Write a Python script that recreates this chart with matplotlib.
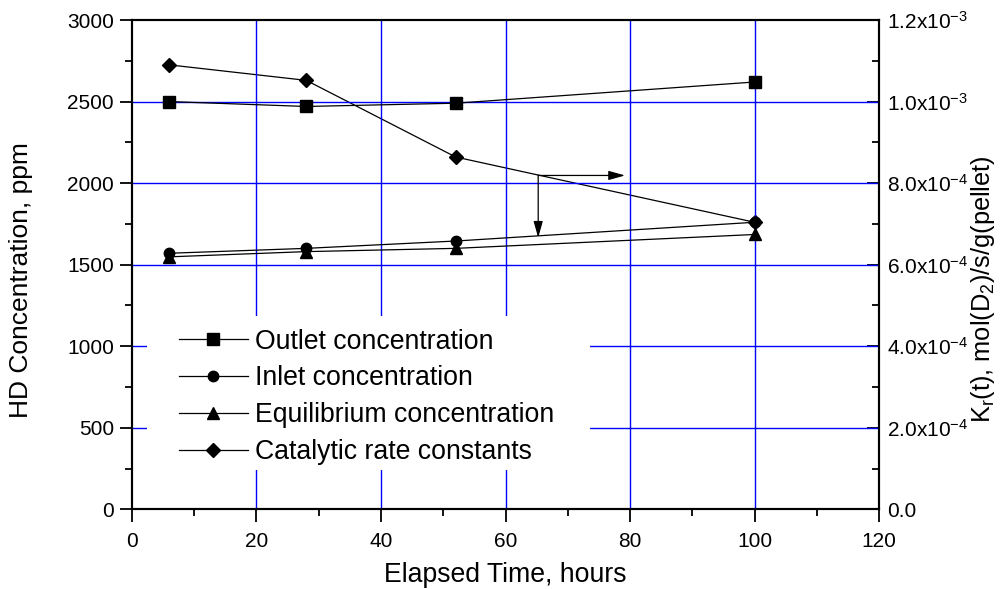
import numpy as np
import matplotlib
matplotlib.use('Agg')
import matplotlib.pyplot as plt
from matplotlib.ticker import MultipleLocator, FixedLocator
from matplotlib.patches import Rectangle

plt.rcParams['font.family'] = ['Liberation Sans', 'DejaVu Sans']
plt.rcParams['mathtext.fontset'] = 'custom'
plt.rcParams['mathtext.rm'] = 'Liberation Sans'
plt.rcParams['mathtext.it'] = 'Liberation Sans'

# ---- data ----
time_h = [6, 28, 52, 100]
outlet = [2500, 2470, 2490, 2620]
inlet = [1570, 1600, 1645, 1760]
equilibrium = [1548, 1580, 1600, 1685]
rate_const = [1.090e-3, 1.052e-3, 8.64e-4, 7.04e-4]

x_ticks = [0, 20, 40, 60, 80, 100, 120]
left_ticks = [0, 500, 1000, 1500, 2000, 2500, 3000]
right_ticks = [0, 2e-4, 4e-4, 6e-4, 8e-4, 1.0e-3, 1.2e-3]
right_labels = ['0.0', r'2.0x10$^{-4}$', r'4.0x10$^{-4}$', r'6.0x10$^{-4}$',
                r'8.0x10$^{-4}$', r'1.0x10$^{-3}$', r'1.2x10$^{-3}$']

fig = plt.figure(figsize=(10.06, 5.89), dpi=100)
ax = fig.add_axes([0.1312, 0.1353, 0.7426, 0.8307])
ax2 = ax.twinx()

grid_col = '#0000ff'
tick_fs = 15
lab_fs = 19.2

# grid (major only)
for gx in x_ticks[1:-1]:
    ax.axvline(gx, color=grid_col, lw=1.0, zorder=0)
for gy in left_ticks[1:-1]:
    ax.axhline(gy, color=grid_col, lw=1.0, zorder=0)

# white block behind the legend hides the grid there
ax.add_patch(Rectangle((2.4, 240), 71.1, 943, facecolor='white', edgecolor='none', zorder=1))

lw = 0.9
h1, = ax.plot(time_h, outlet, '-s', color='k', lw=lw, ms=8, label='Outlet concentration', zorder=3)
h2, = ax.plot(time_h, inlet, '-o', color='k', lw=lw, ms=7.5, label='Inlet concentration', zorder=3)
h3, = ax.plot(time_h, equilibrium, '-^', color='k', lw=lw, ms=8, label='Equilibrium concentration', zorder=3)
h4, = ax2.plot(time_h, rate_const, '-D', color='k', lw=lw, ms=7.5, label='Catalytic rate constants', zorder=3)

# arrows pointing each curve to its axis
arrow_x, arrow_y = 65.25, 2047
ax.annotate('', xy=(79.2, arrow_y), xytext=(arrow_x, arrow_y),
            arrowprops=dict(arrowstyle='-|>,head_length=1.0,head_width=0.28', color='k',
                            lw=0.9, shrinkA=0, shrinkB=0, mutation_scale=10), zorder=4)
ax.annotate('', xy=(arrow_x, 1665), xytext=(arrow_x, arrow_y),
            arrowprops=dict(arrowstyle='-|>,head_length=1.0,head_width=0.28', color='k',
                            lw=0.9, shrinkA=0, shrinkB=0, mutation_scale=10), zorder=4)

ax.set_xlim(0, 120)
ax.set_ylim(0, 3000)
ax2.set_ylim(0, 1.2e-3)

ax.xaxis.set_major_locator(FixedLocator(x_ticks))
ax.xaxis.set_minor_locator(MultipleLocator(10))
ax.yaxis.set_major_locator(FixedLocator(left_ticks))
ax.yaxis.set_minor_locator(MultipleLocator(250))
ax2.yaxis.set_major_locator(FixedLocator(right_ticks))
ax2.set_yticklabels(right_labels)
ax2.yaxis.set_minor_locator(MultipleLocator(1e-4))

ax.tick_params(which='major', direction='out', length=9, width=1.3, labelsize=tick_fs, pad=4)
ax.tick_params(which='minor', direction='out', length=5, width=1.3)
ax.tick_params(axis='x', which='major', pad=7)
ax2.tick_params(which='major', direction='in', length=9, width=1.3, labelsize=tick_fs, pad=5.5)
ax2.tick_params(which='minor', direction='in', length=5, width=1.3)
for a in (ax, ax2):
    for s in a.spines.values():
        s.set_linewidth(1.5)

ax.set_xlabel('Elapsed Time, hours', fontsize=lab_fs, labelpad=8)
ax.set_ylabel('HD Concentration, ppm', fontsize=19)
ax.yaxis.set_label_coords(-0.133, 0.468)
ax2.set_ylabel(r'K$_r$(t), mol(D$_2$)/s/g(pellet)', fontsize=18.3)
ax2.yaxis.set_label_coords(1.121, 0.449)

ax.set_zorder(ax2.get_zorder() + 1)
ax.patch.set_visible(False)

leg = ax.legend(handles=[h1, h2, h3, h4], loc='upper left', bbox_to_anchor=(0.063, 0.3695),
                fontsize=lab_fs, frameon=False, handlelength=2.57, handletextpad=0.26,
                labelspacing=0.41, borderpad=0, borderaxespad=0, numpoints=1)
leg.set_zorder(10)

fig.savefig('out.png', dpi=100)
